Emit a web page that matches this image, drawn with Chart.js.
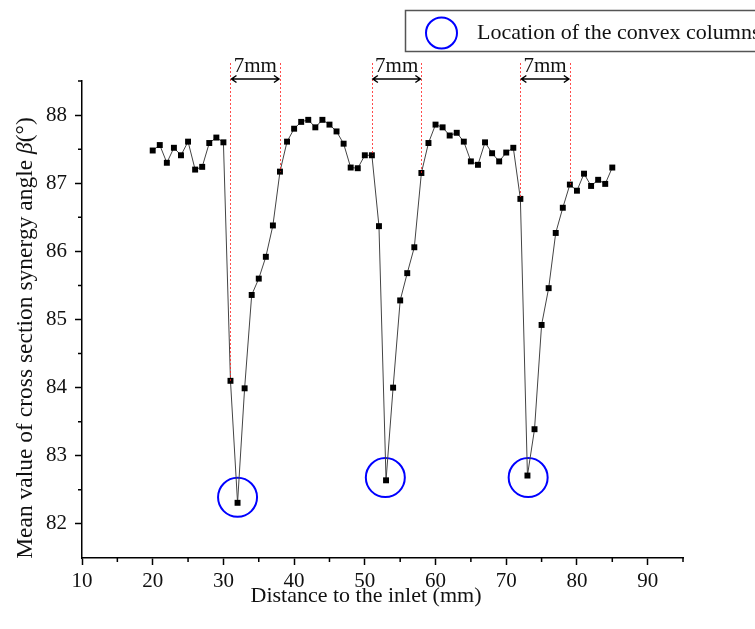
<!DOCTYPE html>
<html>
<head>
<meta charset="utf-8">
<script src="https://cdn.jsdelivr.net/npm/chart.js@4.4.0/dist/chart.umd.min.js"></script>
<style>
  html, body { margin: 0; padding: 0; background: #fff; }
  #wrap { width: 755px; height: 629px; }
</style>
</head>
<body>
<div id="wrap"><canvas id="synergyChart" width="755" height="629"></canvas></div>
<script>
// distance to inlet (mm) and mean synergy angle beta (deg)
const distances = [
  20, 21, 22, 23, 24, 25, 26, 27, 28, 29, 30, 31, 32, 33, 34, 35, 36, 37, 38, 39, 40, 41,
  42, 43, 44, 45, 46, 47, 48, 49, 50, 51, 52, 53, 54, 55, 56, 57, 58, 59, 60, 61, 62, 63,
  64, 65, 66, 67, 68, 69, 70, 71, 72, 73, 74, 75, 76, 77, 78, 79, 80, 81, 82, 83, 84, 85
];
const betaValues = [
  87.48, 87.56, 87.30, 87.52, 87.41, 87.61, 87.20, 87.24, 87.59, 87.67, 87.60, 84.10,
  82.31, 83.99, 85.36, 85.60, 85.92, 86.38, 87.17, 87.61, 87.80, 87.90, 87.93, 87.82,
  87.93, 87.86, 87.76, 87.58, 87.23, 87.22, 87.41, 87.41, 86.37, 82.64, 84.00, 85.28,
  85.68, 86.06, 87.15, 87.59, 87.86, 87.82, 87.70, 87.74, 87.61, 87.32, 87.27, 87.60,
  87.44, 87.32, 87.45, 87.52, 86.77, 82.71, 83.39, 84.92, 85.46, 86.27, 86.64, 86.98,
  86.89, 87.14, 86.96, 87.05, 86.99, 87.23
];

// convex column markers
const columnX = [32, 52.9, 73.1];
const columnY = [82.39, 82.68, 82.68];
const columnLabel = "Location of the convex columns";

// 7mm spans measured between the dotted guides
const spanStarts = [31, 51, 72];
const spanEnds = [38, 58, 79];
const spanLabel = "7mm";

const xTicks = [10, 20, 30, 40, 50, 60, 70, 80, 90];
const xMinorTicks = [15, 25, 35, 45, 55, 65, 75, 85, 95];
const yTicks = [82, 83, 84, 85, 86, 87, 88];
const yMinorTicks = [82.5, 83.5, 84.5, 85.5, 86.5, 87.5, 88.5];

const xTitle = "Distance to the inlet (mm)";
const yTitleParts = ["Mean value of cross section synergy angle ", "\u03B2", "(\u00B0)"];

const serif = "'Liberation Serif', 'Times New Roman', serif";

function betaAt(x) {
  return betaValues[distances.indexOf(x)];
}

const annotations = {
  id: "annotations",
  afterDatasetsDraw(chart) {
    const ctx = chart.ctx;
    const xs = chart.scales.x;
    const ys = chart.scales.y;
    const top = 63;
    const arrowY = 79;

    ctx.save();
    // dotted guides down to the points
    ctx.strokeStyle = "rgba(255, 30, 30, 0.8)";
    ctx.lineWidth = 1;
    ctx.setLineDash([2, 2]);
    spanStarts.concat(spanEnds).forEach((v) => {
      const px = Math.round(xs.getPixelForValue(v)) + 0.5;
      ctx.beginPath();
      ctx.moveTo(px, top);
      ctx.lineTo(px, ys.getPixelForValue(betaAt(v)));
      ctx.stroke();
    });
    ctx.setLineDash([]);

    // double arrows and labels
    ctx.strokeStyle = "#000";
    ctx.fillStyle = "#111";
    ctx.lineWidth = 1.5;
    ctx.font = "21px " + serif;
    ctx.textAlign = "center";
    ctx.textBaseline = "alphabetic";
    spanStarts.forEach((s, i) => {
      const x1 = xs.getPixelForValue(s) + 1;
      const x2 = xs.getPixelForValue(spanEnds[i]) - 1;
      ctx.beginPath();
      ctx.moveTo(x1, arrowY);
      ctx.lineTo(x2, arrowY);
      ctx.moveTo(x1 + 5, arrowY - 3.5);
      ctx.lineTo(x1, arrowY);
      ctx.lineTo(x1 + 5, arrowY + 3.5);
      ctx.moveTo(x2 - 5, arrowY - 3.5);
      ctx.lineTo(x2, arrowY);
      ctx.lineTo(x2 - 5, arrowY + 3.5);
      ctx.stroke();
      ctx.fillText(spanLabel, (x1 + x2) / 2, 72);
    });

    // minor ticks
    ctx.lineWidth = 1.5;
    ctx.beginPath();
    xMinorTicks.forEach((v) => {
      const px = xs.getPixelForValue(v);
      ctx.moveTo(px, xs.top);
      ctx.lineTo(px, xs.top + 4);
    });
    yMinorTicks.forEach((v) => {
      const py = ys.getPixelForValue(v);
      ctx.moveTo(ys.right, py);
      ctx.lineTo(ys.right - 4, py);
    });
    ctx.stroke();

    // x axis title
    ctx.font = "22px " + serif;
    ctx.textAlign = "center";
    ctx.textBaseline = "middle";
    ctx.fillText(xTitle, 366, 596);

    // y axis title with italic beta
    const fonts = ["23.5px " + serif, "italic 23.5px " + serif, "23.5px " + serif];
    const widths = yTitleParts.map((t, i) => {
      ctx.font = fonts[i];
      return ctx.measureText(t).width;
    });
    ctx.translate(26, 338);
    ctx.rotate(-Math.PI / 2);
    ctx.textAlign = "left";
    let cx = -widths.reduce((a, b) => a + b, 0) / 2;
    yTitleParts.forEach((t, i) => {
      ctx.font = fonts[i];
      ctx.fillText(t, cx, 0);
      cx += widths[i];
    });
    ctx.restore();

    // legend box
    ctx.save();
    ctx.strokeStyle = "#555";
    ctx.lineWidth = 1.5;
    ctx.strokeRect(405.5, 10.5, 360, 41);
    ctx.strokeStyle = "#0000ff";
    ctx.lineWidth = 2;
    ctx.beginPath();
    ctx.arc(441.5, 33, 15.5, 0, Math.PI * 2);
    ctx.stroke();
    ctx.fillStyle = "#111";
    ctx.font = "22px " + serif;
    ctx.textAlign = "left";
    ctx.textBaseline = "middle";
    ctx.fillText(columnLabel, 477, 33);
    ctx.restore();
  }
};

new Chart(document.getElementById("synergyChart"), {
  type: "scatter",
  data: {
    datasets: [
      {
        label: "beta",
        data: distances.map((x, i) => ({ x: x, y: betaValues[i] })),
        showLine: true,
        borderColor: "#444",
        borderWidth: 1,
        pointStyle: "rect",
        pointRadius: 4.2,
        pointBorderWidth: 0,
        pointBackgroundColor: "#000",
      },
      {
        label: columnLabel,
        data: columnX.map((x, i) => ({ x: x, y: columnY[i] })),
        showLine: false,
        pointStyle: "circle",
        pointRadius: 19.5,
        pointBorderWidth: 2,
        pointBorderColor: "#0000ff",
        pointBackgroundColor: "rgba(0,0,0,0)",
      },
    ],
  },
  options: {
    responsive: false,
    animation: false,
    devicePixelRatio: 1,
    layout: { padding: { top: 81, right: 72, left: 0, bottom: 0 } },
    plugins: {
      legend: { display: false },
      tooltip: { enabled: false },
    },
    scales: {
      x: {
        type: "linear",
        min: 10,
        max: 95,
        afterBuildTicks: (scale) => { scale.ticks = xTicks.map((v) => ({ value: v })); },
        afterFit: (scale) => { scale.height = 71; },
        ticks: { color: "#111", font: { family: serif, size: 21 }, padding: 4, maxRotation: 0 },
        grid: { drawOnChartArea: false, drawTicks: true, tickLength: 7, tickWidth: 1.5, tickColor: "#000" },
        border: { display: true, color: "#000", width: 1.5 },
      },
      y: {
        type: "linear",
        min: 81.5,
        max: 88.5,
        afterBuildTicks: (scale) => { scale.ticks = yTicks.map((v) => ({ value: v })); },
        afterFit: (scale) => { scale.width = 82; },
        ticks: { color: "#111", font: { family: serif, size: 21 }, padding: 8 },
        grid: { drawOnChartArea: false, drawTicks: true, tickLength: 7, tickWidth: 1.5, tickColor: "#000" },
        border: { display: true, color: "#000", width: 1.5 },
      },
    },
  },
  plugins: [annotations],
});
</script>
</body>
</html>
